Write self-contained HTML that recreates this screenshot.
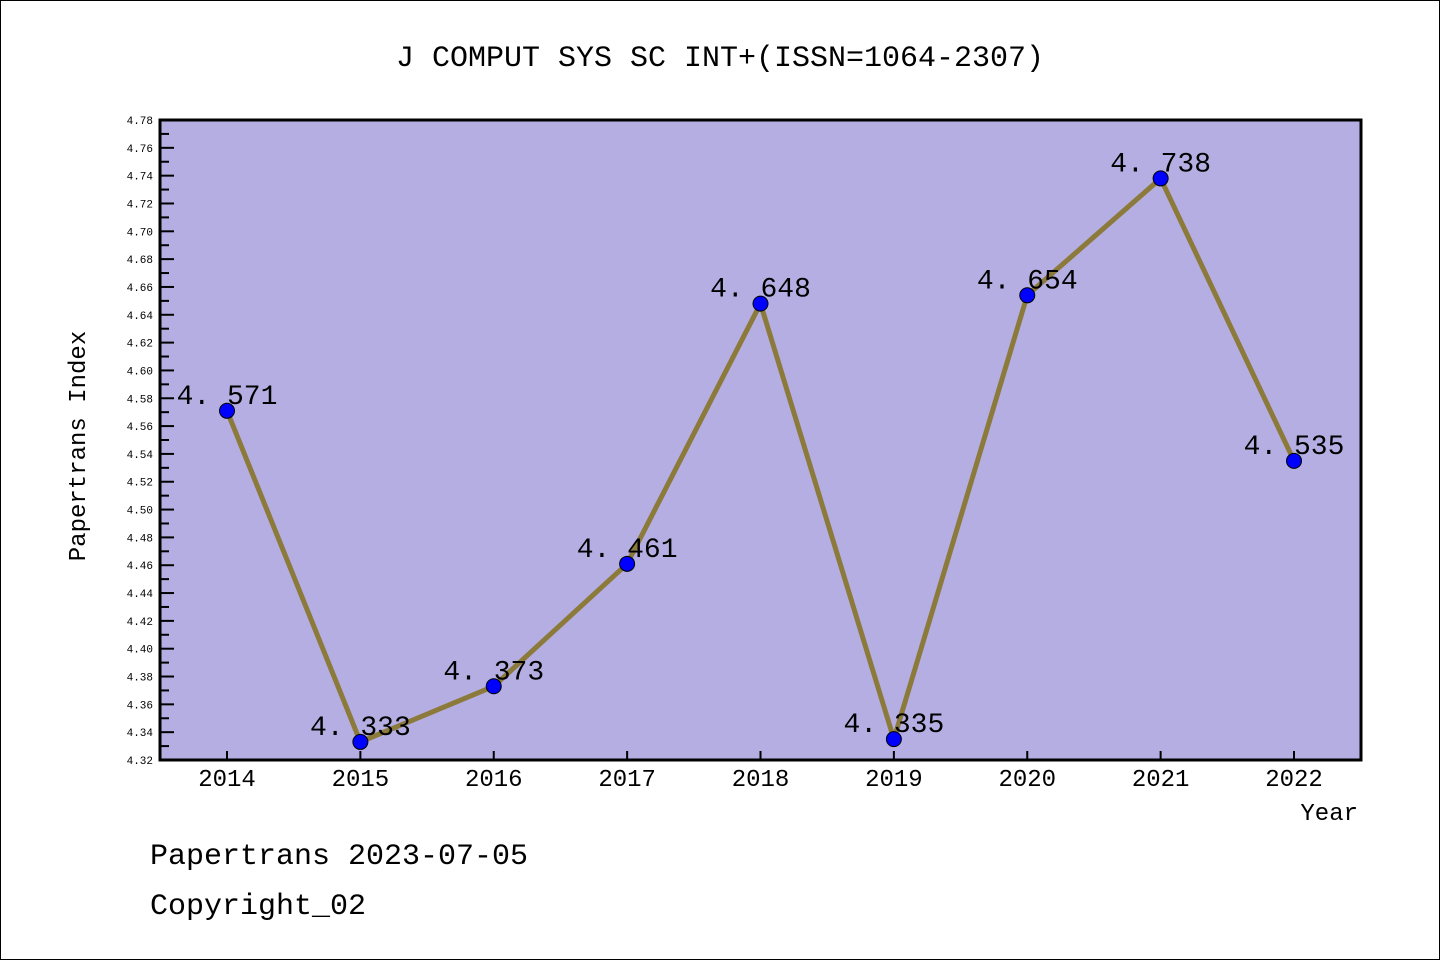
<!DOCTYPE html>
<html><head><meta charset="utf-8"><style>
body{margin:0;background:#fff}
svg{display:block}
text{font-family:"Liberation Mono","Noto Sans CJK SC",monospace}
</style></head><body>
<svg id="chart" width="1440" height="960">
<rect x="0.5" y="0.5" width="1439" height="959" fill="#fff" stroke="#000"/>
<text x="720" y="66" text-anchor="middle" font-size="30">J COMPUT SYS SC INT+(ISSN=1064-2307)</text>
<rect x="160" y="120" width="1201" height="640" fill="#b5aee2"/>
<g id="yaxis"></g>
<g id="xaxis"></g>
<g id="series"></g>
<rect x="160" y="120" width="1201" height="640" fill="none" stroke="#000" stroke-width="3"/>
<text transform="translate(85,446) rotate(-90)" text-anchor="middle" font-size="24">Papertrans Index</text>
<text x="1358" y="820" text-anchor="end" font-size="24">Year</text>
<text x="150" y="864" font-size="30">Papertrans 2023-07-05</text>
<text x="150" y="914" font-size="30">Copyright_02</text>
</svg>
<script>
const categories=["2014","2015","2016","2017","2018","2019","2020","2021","2022"];
const values=[4.571,4.333,4.373,4.461,4.648,4.335,4.654,4.738,4.535];
const yTickLabels=["4.32","4.34","4.36","4.38","4.40","4.42","4.44","4.46","4.48","4.50","4.52","4.54","4.56","4.58","4.60","4.62","4.64","4.66","4.68","4.70","4.72","4.74","4.76","4.78"];
const NS="http://www.w3.org/2000/svg";
const yMin=4.32,yMax=4.78,plotTop=120,plotBot=760;
function y(v){return plotBot-(v-yMin)/(yMax-yMin)*(plotBot-plotTop);}
function x(i){return 227+i*(1294-227)/(categories.length-1);}
function mk(t,a,p){const e=document.createElementNS(NS,t);for(const k in a)e.setAttribute(k,a[k]);p.appendChild(e);return e;}
const ya=document.getElementById('yaxis'),xa=document.getElementById('xaxis'),se=document.getElementById('series');
yTickLabels.forEach((l,i)=>{
  const v=parseFloat(l),yy=y(v);
  const t=mk('line',{x1:160,x2:174,y1:yy,y2:yy,stroke:'#000','stroke-width':2},ya);
  
  
  if(i<yTickLabels.length-1){const ym=y(v+0.01);
    const m=mk('line',{x1:160,x2:169,y1:ym,y2:ym,stroke:'#000','stroke-width':2},ya);
    
    }
  const tx=mk('text',{x:153,y:yy+4,'text-anchor':'end','font-size':11,'font-family':'Liberation Sans, sans-serif'},ya);
  tx.textContent=l;
  
  
});
categories.forEach((c,i)=>{
  const t=mk('line',{x1:x(i),x2:x(i),y1:760,y2:751,stroke:'#000','stroke-width':2},xa);
  
  
  const tx=mk('text',{x:x(i),y:786,'text-anchor':'middle','font-size':24,'font-family':'Liberation Sans, sans-serif'},xa);
  tx.textContent=c;
  
  
});
const pl=mk('polyline',{points:values.map((v,i)=>x(i)+','+y(v)).join(' '),fill:'none',stroke:'#8b7a3a','stroke-width':5,'stroke-linejoin':'round'},se);


values.forEach((v,i)=>{
  const c=mk('circle',{cx:x(i),cy:y(v),r:7.5,fill:'#0000ff',stroke:'#000','stroke-width':1},se);
  
  
  const t=mk('text',{x:x(i),y:y(v)-7,'text-anchor':'middle','font-size':28,fill:'#000'},se);
  t.textContent=v.toFixed(3).replace('.','. ');
  
  
});
</script>
</body></html>
